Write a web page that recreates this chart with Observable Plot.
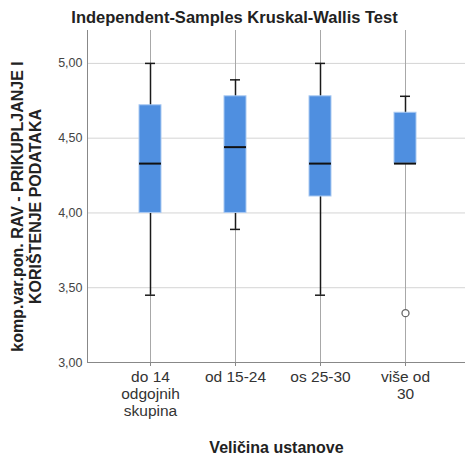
<!DOCTYPE html>
<html>
<head>
<meta charset="utf-8">
<script src="https://cdn.jsdelivr.net/npm/d3@7"></script>
<script src="https://cdn.jsdelivr.net/npm/@observablehq/plot@0.6"></script>
<style>
  body { margin: 0; background: #fff; }
</style>
</head>
<body>
<div id="chart"></div>
<script>
const title = "Independent-Samples Kruskal-Wallis Test";
const xTitle = "Veličina ustanove";
const yTitle = "komp.var.pon. RAV - PRIKUPLJANJE I\nKORIŠTENJE PODATAKA";
const categories = ["do 14 odgojnih skupina", "od 15-24", "os 25-30", "više od 30"];
const categoryLabels = ["do 14\nodgojnih\nskupina", "od 15-24", "os 25-30", "više od\n30"];
const whiskerLow = [3.45, 3.89, 3.45, 4.33];
const q1 = [4.00, 4.00, 4.11, 4.33];
const median = [4.33, 4.44, 4.33, 4.33];
const q3 = [4.72, 4.78, 4.78, 4.67];
const whiskerHigh = [5.00, 4.89, 5.00, 4.78];
const outlierCategory = ["više od 30"];
const outlierValue = [3.33];
const yTicks = [3.0, 3.5, 4.0, 4.5, 5.0];

const boxes = categories.map((c, i) => ({
  cat: c, lo: whiskerLow[i], q1: q1[i], med: median[i], q3: q3[i], hi: whiskerHigh[i]
}));
const outliers = outlierCategory.map((c, i) => ({cat: c, v: outlierValue[i]}));
const labelOf = new Map(categories.map((c, i) => [c, categoryLabels[i]]));

const chart = Plot.plot({
  width: 465,
  height: 461,
  marginTop: 30,
  marginBottom: 99,
  marginLeft: 87,
  marginRight: 0,
  style: {fontFamily: "'Liberation Sans', Arial, sans-serif", background: "#fff"},
  x: {type: "band", domain: categories, paddingInner: 0.74, paddingOuter: 0.575, align: 0.52, axis: null},
  y: {domain: [3, 5.22], axis: null},
  marks: [
    Plot.gridY(yTicks.slice(1), {stroke: "#d4d4d4", strokeOpacity: 1, strokeWidth: 1}),
    Plot.gridX(categories, {stroke: "#a8a8a8", strokeOpacity: 1, strokeWidth: 1}),
    Plot.axisX({tickSize: 4, tickFormat: () => "", label: null, stroke: "#888"}),
    Plot.frame({anchor: "left", stroke: "#888"}),
    Plot.ruleY([3], {stroke: "#888"}),
    Plot.axisY({ticks: yTicks, tickSize: 0, tickPadding: 5, fontSize: 12.5, color: "#444",
      tickFormat: d => d.toFixed(2).replace(".", ","), label: null}),
    Plot.ruleX(boxes, {x: "cat", y1: "lo", y2: "hi", stroke: "#1a1a1a", strokeWidth: 1.5}),
    Plot.tickY(boxes, {x: "cat", y: "hi", stroke: "#1a1a1a", strokeWidth: 1.5, insetLeft: 6, insetRight: 6}),
    Plot.tickY(boxes.filter(d => d.lo < d.q1), {x: "cat", y: "lo", stroke: "#1a1a1a", strokeWidth: 1.5, insetLeft: 6, insetRight: 6}),
    Plot.barY(boxes, {x: "cat", y1: "q1", y2: "q3", fill: "#4f8fe0", stroke: "#a9c9f2", strokeWidth: 1}),
    Plot.tickY(boxes, {x: "cat", y: "med", stroke: "#111", strokeWidth: 2}),
    Plot.dot(outliers, {x: "cat", y: "v", r: 3.5, stroke: "#666", fill: "#fff", strokeWidth: 1.3}),
    Plot.text(categories, {x: d => d, text: d => labelOf.get(d), frameAnchor: "bottom", lineAnchor: "top",
      dy: 8, fontSize: 15.5, fill: "#333", lineHeight: 1.08}),
    Plot.text([title], {frameAnchor: "top", dx: -42, dy: -19, fontWeight: "bold", fontSize: 16.5, fill: "#222"}),
    Plot.text([xTitle], {frameAnchor: "bottom", dy: 90, fontWeight: "bold", fontSize: 16, fill: "#222"}),
    Plot.text([yTitle], {frameAnchor: "left", rotate: -90, dx: -61, dy: 10, textAnchor: "middle", lineAnchor: "middle",
      fontWeight: "bold", fontSize: 16, fill: "#222", lineHeight: 1.1})
  ]
});
document.getElementById("chart").append(chart);
</script>
</body>
</html>
